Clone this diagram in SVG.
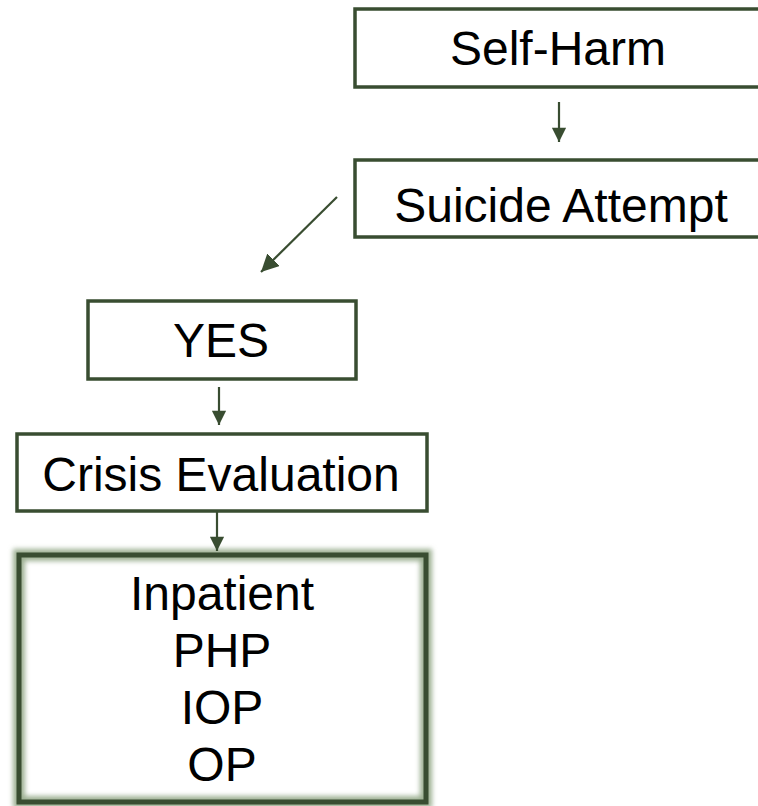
<svg xmlns="http://www.w3.org/2000/svg" width="758" height="806" viewBox="0 0 758 806">
  <style>
    .box { fill: #ffffff; stroke: #394d31; stroke-width: 3.5; }
    .label { font-family: "Liberation Sans", Arial, sans-serif; font-size: 48px; fill: #000000; text-anchor: middle; }
    .conn { stroke: #394d31; stroke-width: 2.2; fill: none; }
  </style>
  <defs>
    <marker id="head" viewBox="0 0 10 10" refX="10" refY="5" markerWidth="7" markerHeight="6.5" orient="auto" markerUnits="strokeWidth">
      <path d="M0,0 L10,5 L0,10 Z" fill="#394d31"/>
    </marker>
    <marker id="headBig" viewBox="0 0 10 10" refX="10" refY="5" markerWidth="8" markerHeight="8" orient="auto" markerUnits="strokeWidth">
      <path d="M0,0 L10,5 L0,10 Z" fill="#394d31"/>
    </marker>
    <filter id="glow" x="-10%" y="-10%" width="120%" height="120%">
      <feGaussianBlur stdDeviation="2.6"/>
    </filter>
  </defs>

  <g id="self-harm">
    <rect class="box" x="355" y="9" width="420" height="78"/>
    <text class="label" x="558" y="65">Self-Harm</text>
  </g>

  <g id="suicide-attempt">
    <rect class="box" x="355" y="160" width="420" height="77"/>
    <text class="label" x="561" y="222">Suicide Attempt</text>
  </g>

  <g id="yes">
    <rect class="box" x="88" y="301" width="268" height="78"/>
    <text class="label" x="221" y="357">YES</text>
  </g>

  <g id="crisis-evaluation">
    <rect class="box" x="17" y="434" width="410" height="77"/>
    <text class="label" x="221" y="491">Crisis Evaluation</text>
  </g>

  <g id="care-levels">
    <rect x="19" y="555" width="407" height="247" fill="none" stroke="#9db093" stroke-width="12" filter="url(#glow)"/>
    <rect x="19" y="555" width="407" height="247" fill="none" stroke="#394d31" stroke-width="5"/>
    <text class="label" x="222" y="610">Inpatient</text>
    <text class="label" x="222" y="667">PHP</text>
    <text class="label" x="222" y="724">IOP</text>
    <text class="label" x="222" y="781">OP</text>
  </g>

  <g id="connectors">
    <line class="conn" x1="559" y1="102" x2="559" y2="142" marker-end="url(#head)"/>
    <line class="conn" x1="337" y1="197" x2="261" y2="272" marker-end="url(#headBig)"/>
    <line class="conn" x1="219" y1="387" x2="219" y2="425" marker-end="url(#head)"/>
    <line class="conn" x1="217" y1="512" x2="217" y2="551" marker-end="url(#head)"/>
  </g>
</svg>
